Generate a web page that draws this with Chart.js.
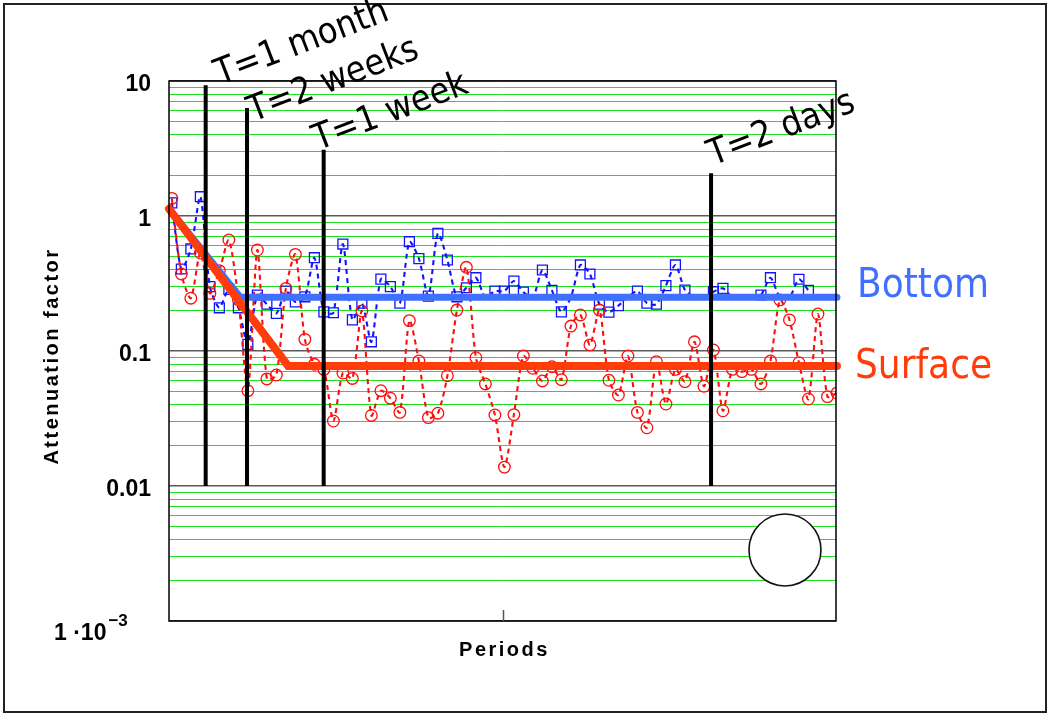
<!DOCTYPE html>
<html>
<head>
<meta charset="utf-8">
<script src="https://cdn.jsdelivr.net/npm/chart.js@4.4.1/dist/chart.umd.min.js"></script>
<style>
  html, body { margin: 0; padding: 0; background: #ffffff; }
  canvas { display: block; }
</style>
</head>
<body>
<canvas id="chart" width="1050" height="716"></canvas>
<script>
// Attenuation factor per period, surface and bottom records
const surface = [
  1.35, 0.372, 0.246, 0.532, 0.267, 0.394, 0.664, 0.24, 0.0508, 0.560,
  0.0621, 0.0664, 0.291, 0.520, 0.122, 0.0797, 0.073, 0.0303, 0.0687, 0.0626,
  0.198, 0.0333, 0.0508, 0.0447, 0.0351, 0.168, 0.0843, 0.0321, 0.0346, 0.0656,
  0.201, 0.417, 0.0892, 0.0570, 0.0336, 0.0138, 0.0338, 0.0918, 0.0745, 0.0600,
  0.0765, 0.0613, 0.153, 0.185, 0.111, 0.201, 0.0607, 0.0472, 0.0918, 0.0351,
  0.0270, 0.0833, 0.0405, 0.0731, 0.0593, 0.117, 0.0548, 0.1017, 0.0361, 0.0731,
  0.0703, 0.0731, 0.0570, 0.0843, 0.239, 0.170, 0.0819, 0.0441, 0.188, 0.0459,
  0.0488
];
const bottom = [
  1.25, 0.405, 0.570, 1.39, 0.300, 0.209, 0.286, 0.209, 0.112, 0.260,
  0.222, 0.190, 0.278, 0.231, 0.252, 0.491, 0.195, 0.192, 0.620, 0.170,
  0.226, 0.117, 0.341, 0.300, 0.226, 0.645, 0.483, 0.255, 0.744, 0.472,
  0.252, 0.294, 0.349, 0.25, 0.278, 0.278, 0.330, 0.273, 0.25, 0.398,
  0.281, 0.195, 0.25, 0.434, 0.372, 0.222, 0.194, 0.217, 0.25, 0.278,
  0.226, 0.222, 0.305, 0.434, 0.283, 0.25, 0.25, 0.275, 0.291, 0.25,
  0.25, 0.25, 0.260, 0.349, 0.25, 0.25, 0.340, 0.281
];
// periods whose bottom marker sits under the fitted level line
const bottomCovered = [33, 38, 42, 48, 55, 56, 59, 60, 61, 64, 65];

// Fitted attenuation: falling slope, then a flat level
const surfaceFitX = [-0.3, 12.24, 70];
const surfaceFitY = [1.13, 0.0775, 0.0775];
const bottomFitX = [-0.3, 7.19, 70];
const bottomFitY = [1.13, 0.25, 0.25];

// Period markers
const markerLabels = ['T=1 month', 'T=2 weeks', 'T=1 week', 'T=2 days'];
const markerX = [3.56, 7.91, 15.98, 56.75];
const markerTop = [9.3, 6.3, 3.1, 2.07];
const markerFloor = 0.01;

// Reference circle
const circleX = [64.53];
const circleY = [0.00336];

// Axes
const xRange = [-0.3, 69.9];
const yRange = [1e-3, 10];
const decades = [1e-3, 1e-2, 1e-1, 1, 10];
const yTickLabels = ['1 \u00b710', '0.01', '0.1', '1', '10'];
const yLabelExponent = '\u22123';
const seriesNames = ['Surface', 'Bottom'];
const axisTitles = { x: 'Periods', y: 'Attenuation factor' };

// ---- helpers ---------------------------------------------------------
const gridValues = [];
decades.forEach((d, i) => {
  if (i === decades.length - 1) { gridValues.push(d); return; }
  for (let m = 1; m <= 9; m++) gridValues.push(+(d * m).toPrecision(6));
});
const isDecade = v => Math.abs(Math.log10(v) - Math.round(Math.log10(v))) < 1e-9;
const toPoints = (xs, ys) => ys.map((y, i) => ({ x: xs[i], y }));
const byIndex = ys => ys.map((y, i) => ({ x: i, y }));

function fontAvailable(name) {
  const m = document.createElement('canvas').getContext('2d');
  const probe = 'T=1 month Bottom Surface';
  m.font = '40px "' + name + '", monospace';
  const a = m.measureText(probe).width;
  m.font = '40px monospace';
  const b = m.measureText(probe).width;
  return Math.abs(a - b) > 0.5;
}
const condensed = fontAvailable('DejaVu Sans Condensed');
const noteFont = condensed ? '36px "DejaVu Sans Condensed"' : '33px "DejaVu Sans"';
const sideFont = condensed ? '40px "DejaVu Sans Condensed"' : '36px "DejaVu Sans"';
const axisFont = '"Liberation Sans", Arial, sans-serif';

const RED = '#ff3c0a';
const BLUE = '#4070ff';

// ---- datasets --------------------------------------------------------
const datasets = [];
markerX.forEach((x, i) => {
  datasets.push({
    label: markerLabels[i],
    data: [{ x, y: markerFloor }, { x, y: markerTop[i] }],
    showLine: true, borderColor: '#000', borderWidth: 4,
    pointRadius: 0, order: 0, clip: false
  });
});
datasets.push({
  label: seriesNames[0] + ' fit',
  data: toPoints(surfaceFitX, surfaceFitY),
  showLine: true, borderColor: RED, borderWidth: 8, borderCapStyle: 'round',
  pointRadius: 0, order: 1, clip: false
});
datasets.push({
  label: seriesNames[1] + ' fit',
  data: toPoints(bottomFitX, bottomFitY),
  showLine: true, borderColor: BLUE, borderWidth: 7, borderCapStyle: 'round',
  pointRadius: 0, order: 2, clip: false
});
datasets.push({
  label: 'circle',
  data: toPoints(circleX, circleY),
  showLine: false, pointRadius: 36, pointBorderWidth: 1.6,
  pointBorderColor: '#111', pointBackgroundColor: '#fff', order: 3
});
datasets.push({
  label: seriesNames[0],
  data: byIndex(surface),
  showLine: true, borderColor: '#ff0d0d', borderWidth: 2.1, borderDash: [5, 4],
  tension: 0.25, pointStyle: 'circle', pointRadius: 5.8, pointBorderWidth: 1.3,
  pointBorderColor: '#ff0d0d', pointBackgroundColor: 'rgba(0,0,0,0)', order: 4
});
datasets.push({
  label: seriesNames[1],
  data: byIndex(bottom),
  showLine: true,
  borderColor: '#1212ff', borderWidth: 2.1, borderDash: [5, 4],
  tension: 0.25, pointStyle: 'rect',
  pointRadius: c => bottomCovered.includes(c.dataIndex) ? 0 : 7,
  pointBorderWidth: 1.3,
  pointBorderColor: '#1212ff', pointBackgroundColor: 'rgba(0,0,0,0)', order: 5
});

// ---- frame, titles and annotations ------------------------------------
const framePlugin = {
  id: 'frame',
  beforeDraw(chart) {
    const ctx = chart.ctx;
    ctx.save();
    ctx.fillStyle = '#fff';
    ctx.fillRect(0, 0, chart.width, chart.height);
    ctx.restore();
  },
  afterDraw(chart) {
    const ctx = chart.ctx;
    const a = chart.chartArea;
    const xs = chart.scales.x, ys = chart.scales.y;
    ctx.save();

    // plot border
    ctx.strokeStyle = '#000';
    ctx.lineWidth = 1.5;
    ctx.strokeRect(a.left, a.top, a.right - a.left, a.bottom - a.top);

    // inner tick at the middle of the period axis
    const mid = xs.getPixelForValue((xRange[0] + xRange[1]) / 2);
    ctx.strokeStyle = '#555';
    ctx.lineWidth = 1.5;
    ctx.beginPath();
    ctx.moveTo(Math.round(mid) + 0.5, a.bottom);
    ctx.lineTo(Math.round(mid) + 0.5, a.bottom - 11);
    ctx.stroke();

    // outer figure border
    ctx.strokeStyle = '#222';
    ctx.lineWidth = 2;
    ctx.strokeRect(4, 4, chart.width - 8, chart.height - 8);

    // lowest decade label with superscript exponent
    ctx.fillStyle = '#000';
    ctx.textBaseline = 'alphabetic';
    ctx.textAlign = 'left';
    ctx.font = 'bold 23px ' + axisFont;
    ctx.fillText(yTickLabels[0], 54, 640);
    const w0 = ctx.measureText(yTickLabels[0]).width;
    ctx.font = 'bold 17px ' + axisFont;
    ctx.fillText(yLabelExponent, 54 + w0 + 2, 626);

    // axis titles
    ctx.font = 'bold 20px ' + axisFont;
    ctx.letterSpacing = '2.5px';
    ctx.textAlign = 'center';
    ctx.textBaseline = 'middle';
    ctx.fillText(axisTitles.x, (a.left + a.right) / 2 + 2, 650);
    ctx.save();
    ctx.translate(52, 356);
    ctx.rotate(-Math.PI / 2);
    ctx.fillText(axisTitles.y, 0, 0);
    ctx.restore();
    ctx.letterSpacing = '0px';

    // period marker captions, tilted
    const noteAnchors = [[5.07, 9.34], [8.54, 4.97], [15.38, 3.05], [56.96, 2.36]];
    ctx.font = noteFont;
    ctx.textAlign = 'left';
    ctx.textBaseline = 'alphabetic';
    markerLabels.forEach((t, i) => {
      const px = xs.getPixelForValue(noteAnchors[i][0]);
      const py = ys.getPixelForValue(noteAnchors[i][1]);
      ctx.save();
      ctx.translate(px, py);
      ctx.rotate(-21 * Math.PI / 180);
      ctx.fillText(t, 0, 0);
      ctx.restore();
    });

    // series names beside the fitted levels
    ctx.font = sideFont;
    ctx.fillStyle = BLUE;
    ctx.fillText(seriesNames[1], a.right + 21, 297);
    ctx.fillStyle = RED;
    ctx.fillText(seriesNames[0], a.right + 19, 378);

    ctx.restore();
  }
};

new Chart(document.getElementById('chart'), {
  type: 'scatter',
  data: { datasets },
  options: {
    responsive: false,
    animation: false,
    devicePixelRatio: 1,
    layout: { padding: { top: 81, right: 214, left: 0, bottom: 0 } },
    plugins: { legend: { display: false }, tooltip: { enabled: false } },
    elements: { line: { fill: false } },
    scales: {
      x: {
        type: 'linear', min: xRange[0], max: xRange[1],
        grid: { display: false }, border: { display: false },
        ticks: { display: false },
        afterFit(s) { s.height = 95; }
      },
      y: {
        type: 'logarithmic', min: yRange[0], max: yRange[1],
        afterBuildTicks(s) { s.ticks = gridValues.map(v => ({ value: v })); },
        afterFit(s) { s.width = 169; },
        border: { display: false },
        grid: {
          drawTicks: false,
          color: c => (c.tick && isDecade(c.tick.value)) ? '#5a5a5a' : '#1de21d',
          lineWidth: c => (c.tick && isDecade(c.tick.value)) ? 1.5 : 1
        },
        ticks: {
          autoSkip: false, padding: 18, color: '#000', labelOffset: 4,
          font: { family: axisFont, size: 23, weight: 'bold' },
          callback: v => {
            const k = decades.findIndex(d => Math.abs(d - v) / d < 1e-6);
            return k > 0 ? yTickLabels[k] : '';
          }
        }
      }
    }
  },
  plugins: [framePlugin]
});
</script>
</body>
</html>
